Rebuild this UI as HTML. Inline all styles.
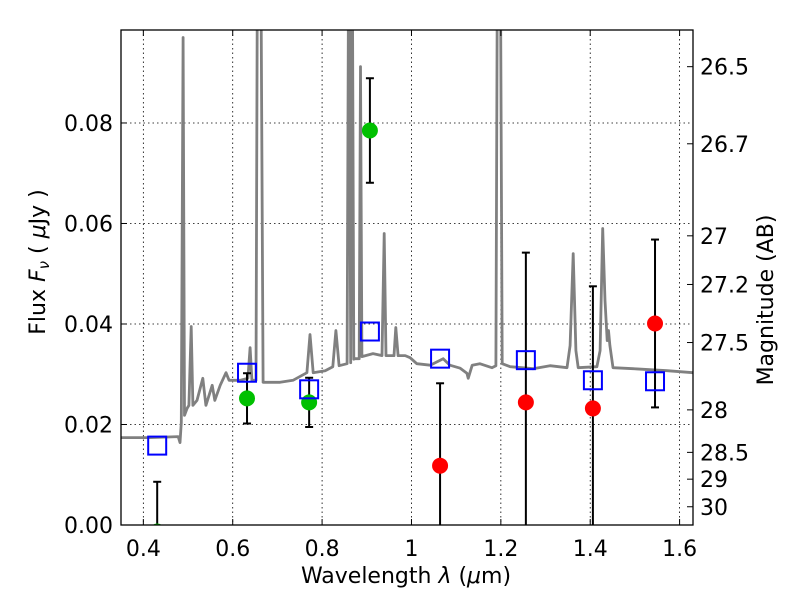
<!DOCTYPE html>
<html><head><meta charset="utf-8"><style>
html,body{margin:0;padding:0;background:#fff;}
svg text{font-family:"DejaVu Sans","Liberation Sans",sans-serif;fill:#000;}
</style></head><body>
<svg id="chart" width="800" height="600" viewBox="0 0 800 600" xmlns="http://www.w3.org/2000/svg">
<defs><clipPath id="plotclip"><rect x="121" y="30" width="572" height="495"/></clipPath></defs>
<rect x="0" y="0" width="800" height="600" fill="#fff"/>
<g id="grid"></g>
<g id="spec" clip-path="url(#plotclip)"></g>
<g id="marks" clip-path="url(#plotclip)"></g>
<rect x="121" y="30" width="572" height="495" fill="none" stroke="#000" stroke-width="1.3"/>
<g id="axes"></g>
<text x="406" y="583" font-size="22" text-anchor="middle">Wavelength  <tspan font-style="italic">λ</tspan> (<tspan font-style="italic">μ</tspan>m)</text>
<text transform="translate(45,262) rotate(-90)" font-size="22" text-anchor="middle">Flux  <tspan font-style="italic">F</tspan><tspan font-style="italic" font-size="15" dy="4">ν</tspan><tspan dy="-4">  (  </tspan><tspan font-style="italic">μ</tspan>Jy )</text>
<text transform="translate(773,300) rotate(-90)" font-size="22" text-anchor="middle">Magnitude (AB)</text>
</svg>
<script>
const specWave = [0.350,0.415,0.478,0.482,0.485,0.489,0.492,0.498,0.502,0.507,0.511,0.520,0.533,0.540,0.554,0.560,0.572,0.585,0.592,0.616,0.634,0.639,0.643,0.652,0.656,0.662,0.668,0.706,0.735,0.766,0.773,0.780,0.807,0.824,0.831,0.838,0.856,0.860,0.864,0.867,0.871,0.874,0.883,0.886,0.889,0.914,0.934,0.939,0.943,0.961,0.965,0.970,0.986,0.997,1.012,1.042,1.071,1.086,1.109,1.124,1.127,1.136,1.153,1.180,1.189,1.193,1.198,1.203,1.221,1.272,1.310,1.348,1.355,1.362,1.368,1.373,1.415,1.422,1.428,1.433,1.438,1.441,1.444,1.451,1.496,1.572,1.630];
const specFlux = [0.0174,0.0174,0.0176,0.0164,0.0204,0.0970,0.0218,0.0232,0.0238,0.0395,0.0238,0.0248,0.0292,0.0238,0.0278,0.0248,0.0278,0.0303,0.0288,0.0288,0.0292,0.0353,0.0288,0.0288,0.13,0.13,0.0284,0.0284,0.0288,0.0303,0.0379,0.0303,0.0307,0.0315,0.0387,0.0317,0.0321,0.13,0.0323,0.13,0.0330,0.0331,0.0331,0.0912,0.0335,0.0341,0.0337,0.0580,0.0337,0.0337,0.0393,0.0337,0.0337,0.0333,0.0321,0.0318,0.0331,0.0318,0.0312,0.0302,0.0292,0.0318,0.0321,0.0313,0.0317,0.13,0.13,0.0321,0.0315,0.0311,0.0317,0.0313,0.0357,0.0540,0.0347,0.0313,0.0315,0.0347,0.0590,0.0447,0.0367,0.0387,0.0357,0.0313,0.0311,0.0307,0.0303];
const modelWave = [0.431,0.632,0.771,0.907,1.064,1.256,1.406,1.545];
const modelFlux = [0.0158,0.0303,0.0270,0.0385,0.0331,0.0328,0.0288,0.0286];
const greenWave = [0.431,0.632,0.771,0.907];
const greenFlux = [-0.0013,0.0252,0.0244,0.0785];
const greenErr = [0.0099,0.0050,0.0049,0.0104];
const redWave = [1.064,1.256,1.406,1.545];
const redFlux = [0.0118,0.0244,0.0232,0.0401];
const redErr = [0.0164,0.0298,0.0243,0.0167];
const xTicks = [0.4,0.6,0.8,1.0,1.2,1.4,1.6];
const xTickLabels = ["0.4","0.6","0.8","1","1.2","1.4","1.6"];
const yTicks = [0,0.02,0.04,0.06,0.08];
const yTickLabels = ["0.00","0.02","0.04","0.06","0.08"];
const magTicks = [26.5,26.7,27,27.2,27.5,28,28.5,29,30];
const magTickLabels = ["26.5","26.7","27","27.2","27.5","28","28.5","29","30"];

const X0=121,X1=693,Y0=525,Y1=30,XMIN=0.35,XMAX=1.63,YMIN=0,YMAX=0.0985;
const sx=v=>X0+(v-XMIN)/(XMAX-XMIN)*(X1-X0);
const sy=v=>Y0-(v-YMIN)/(YMAX-YMIN)*(Y0-Y1);
const NS="http://www.w3.org/2000/svg";
function mk(tag,attrs,parent){const e=document.createElementNS(NS,tag);for(const k in attrs)e.setAttribute(k,attrs[k]);parent.appendChild(e);return e;}
const grid=document.getElementById('grid'),axes=document.getElementById('axes'),spec=document.getElementById('spec'),marks=document.getElementById('marks');

xTicks.forEach((t,i)=>{const x=sx(t);
 const g=mk('line',{x1:x,x2:x,y1:Y1,y2:Y0,stroke:'#000','stroke-width':0.8,'stroke-dasharray':'1.5,3'},grid);
 
 
 mk('line',{x1:x,x2:x,y1:Y0,y2:Y0-6,stroke:'#000','stroke-width':1},axes);
 mk('line',{x1:x,x2:x,y1:Y1,y2:Y1+6,stroke:'#000','stroke-width':1},axes);
 const tx=mk('text',{x:x,y:556,'font-size':22,'text-anchor':'middle'},axes);tx.textContent=xTickLabels[i];
 
 
});
yTicks.forEach((t,i)=>{const y=sy(t);
 if(t>0){const g=mk('line',{x1:X0,x2:X1,y1:y,y2:y,stroke:'#000','stroke-width':0.8,'stroke-dasharray':'1.5,3'},grid);
 
 }
 mk('line',{x1:X0,x2:X0+6,y1:y,y2:y,stroke:'#000','stroke-width':1},axes);
 const tx=mk('text',{x:113,y:y+8,'font-size':22,'text-anchor':'end'},axes);tx.textContent=yTickLabels[i];
 
 
});
magTicks.forEach((m,i)=>{const f=Math.pow(10,(23.9-m)/2.5);const y=sy(f);
 mk('line',{x1:X1-6,x2:X1,y1:y,y2:y,stroke:'#000','stroke-width':1},axes);
 const tx=mk('text',{x:700,y:y+8,'font-size':22,'text-anchor':'start'},axes);tx.textContent=magTickLabels[i];
 
 
});

const pts=specWave.map((w,i)=>sx(w).toFixed(1)+','+sy(specFlux[i]).toFixed(1)).join(' ');
const pl=mk('polyline',{points:pts,fill:'none',stroke:'#808080','stroke-width':2.8,'stroke-linejoin':'round'},spec);



function errbar(w,f,e){const x=sx(w);
 mk('line',{x1:x,x2:x,y1:sy(f-e),y2:sy(f+e),stroke:'#000','stroke-width':2},marks);
 mk('line',{x1:x-4,x2:x+4,y1:sy(f+e),y2:sy(f+e),stroke:'#000','stroke-width':2},marks);
 mk('line',{x1:x-4,x2:x+4,y1:sy(f-e),y2:sy(f-e),stroke:'#000','stroke-width':2},marks);}
greenWave.forEach((w,i)=>{errbar(w,greenFlux[i],greenErr[i]);
 const c=mk('circle',{cx:sx(w),cy:sy(greenFlux[i]),r:8,fill:'#00c000'},marks);
 
 });
redWave.forEach((w,i)=>{errbar(w,redFlux[i],redErr[i]);
 const c=mk('circle',{cx:sx(w),cy:sy(redFlux[i]),r:8,fill:'#ff0000'},marks);
 
 });
modelWave.forEach((w,i)=>{
 const r=mk('rect',{x:sx(w)-9,y:sy(modelFlux[i])-9,width:18,height:18,fill:'none',stroke:'#0000ff','stroke-width':2},marks);
 
 });
</script>
</body></html>
